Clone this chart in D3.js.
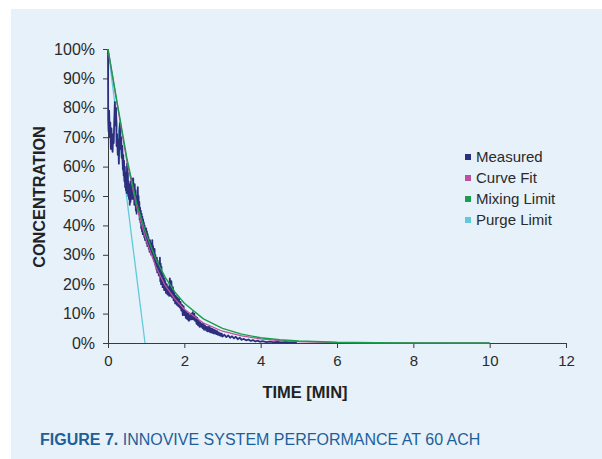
<!DOCTYPE html>
<html>
<head>
<meta charset="utf-8">
<script src="https://cdn.jsdelivr.net/npm/d3@7"></script>
<style>
  html, body { margin: 0; padding: 0; background: #fff; }
  svg text { font-family: "Liberation Sans", Arial, sans-serif; }
</style>
</head>
<body>
<div id="chart"></div>
<script>
// Concentration decay at 60 ACH: measured trace plus fit and limit curves

const xTicks = [0, 2, 4, 6, 8, 10, 12];
const yTicks = [0, 10, 20, 30, 40, 50, 60, 70, 80, 90, 100];

const seriesNames = ['Measured', 'Curve Fit', 'Mixing Limit', 'Purge Limit'];
const seriesColors = ['#2b2f7e', '#c04fa0', '#1a9d4c', '#62c9d9'];

// [time (min), concentration (%)]
const purgeLimit = [[0, 100], [0.97, 0]];

const mixingLimit = [
  [0, 100], [0.25, 81], [0.5, 62.5], [0.75, 47.5], [1, 37], [1.25, 28.6], [1.5, 22.3],
  [1.75, 17.4], [2, 13.5], [2.5, 8.2], [3, 5], [3.5, 3], [4, 1.8], [4.5, 1.1], [5, 0.7],
  [6, 0.25], [7, 0.1], [8, 0.04], [9, 0.02], [10, 0.01]
];

const curveFit = [
  [0, 100], [0.25, 80.5], [0.5, 61.5], [0.75, 46.5], [1, 35], [1.25, 26], [1.5, 19.5],
  [1.75, 15], [2, 11.5], [2.5, 6.8], [3, 4], [3.5, 2.4], [4, 1.4], [4.5, 0.8], [5, 0.5],
  [6, 0.15], [7, 0.05], [8, 0.02], [10, 0.01]
];

const measured = [
  [0, 100], [0.005, 76], [0.015, 72], [0.03, 79], [0.045, 70], [0.06, 75], [0.075, 66],
  [0.09, 73], [0.105, 67], [0.12, 65], [0.135, 71], [0.15, 68], [0.165, 76], [0.18, 82],
  [0.195, 74], [0.21, 80], [0.225, 67], [0.24, 71], [0.255, 64], [0.27, 69], [0.285, 61],
  [0.30, 72], [0.315, 75], [0.33, 66], [0.345, 70], [0.36, 63], [0.375, 67], [0.39, 59],
  [0.40, 64], [0.41, 57], [0.42, 62], [0.43, 55], [0.44, 60], [0.45, 53], [0.46, 58],
  [0.47, 52], [0.48, 57], [0.49, 51], [0.50, 61], [0.51, 53], [0.52, 58], [0.53, 50],
  [0.54, 55], [0.55, 49], [0.56, 54], [0.57, 47], [0.58, 53], [0.59, 48], [0.60, 55],
  [0.61, 49], [0.62, 56], [0.63, 50], [0.64, 54], [0.65, 49], [0.66, 56], [0.67, 50],
  [0.68, 53], [0.69, 47], [0.70, 54], [0.71, 48], [0.72, 52], [0.73, 45], [0.74, 50],
  [0.75, 44], [0.76, 49], [0.77, 46], [0.78, 53], [0.79, 46], [0.80, 50], [0.81, 44],
  [0.82, 48], [0.83, 42], [0.84, 46], [0.85, 41], [0.86, 45], [0.87, 39], [0.88, 44],
  [0.89, 38], [0.90, 43], [0.91, 37], [0.92, 42], [0.93, 37], [0.94, 41], [0.95, 36],
  [0.96, 40], [0.97, 35], [0.98, 39], [0.99, 35], [1.00, 39], [1.01, 34], [1.02, 38],
  [1.03, 33], [1.04, 37], [1.05, 33], [1.06, 36], [1.07, 32], [1.08, 35], [1.09, 31],
  [1.10, 35], [1.11, 31], [1.12, 34], [1.13, 30], [1.14, 34], [1.15, 31], [1.16, 35],
  [1.17, 30], [1.18, 33], [1.19, 29], [1.20, 32], [1.21, 28], [1.22, 32], [1.23, 27],
  [1.24, 30], [1.25, 26], [1.26, 29], [1.27, 25], [1.28, 29], [1.29, 24], [1.30, 28],
  [1.31, 24], [1.32, 27], [1.33, 23], [1.34, 27], [1.35, 23], [1.36, 29], [1.37, 21],
  [1.38, 27], [1.39, 20], [1.40, 26], [1.41, 20], [1.42, 24], [1.43, 19], [1.44, 23],
  [1.45, 19], [1.46, 22], [1.47, 18], [1.48, 22], [1.49, 18], [1.50, 21], [1.52, 17],
  [1.54, 20], [1.56, 16.5], [1.58, 19], [1.60, 16], [1.62, 22], [1.64, 16], [1.66, 21],
  [1.68, 15.5], [1.70, 19], [1.72, 14.5], [1.74, 17], [1.76, 13.5], [1.78, 16], [1.80, 13],
  [1.82, 15.5], [1.84, 12.5], [1.86, 15], [1.88, 12], [1.90, 14], [1.92, 11], [1.94, 13],
  [1.96, 9.5], [1.98, 12.5], [2.00, 9.5], [2.02, 11], [2.04, 8.5], [2.06, 10.5], [2.08, 8],
  [2.10, 10], [2.12, 7.5], [2.14, 9.5], [2.16, 8], [2.18, 10], [2.20, 8], [2.22, 10.5],
  [2.24, 8], [2.26, 10], [2.28, 7.5], [2.30, 9], [2.32, 6.5], [2.34, 8.5], [2.36, 6],
  [2.38, 7.5], [2.40, 5.5], [2.42, 7], [2.44, 5.5], [2.46, 6.5], [2.48, 5], [2.50, 6.5],
  [2.52, 4.5], [2.54, 6], [2.56, 4.5], [2.58, 5.5], [2.60, 4], [2.62, 5.5], [2.64, 4],
  [2.66, 5.5], [2.68, 3.6], [2.70, 5], [2.72, 3.5], [2.74, 4.8], [2.76, 3.3], [2.78, 4.5],
  [2.80, 3.2], [2.82, 4.3], [2.84, 3], [2.86, 4], [2.88, 2.8], [2.90, 3.6], [2.92, 2.6],
  [2.94, 3.3], [2.96, 2.4], [2.98, 3.2], [3.00, 2.2], [3.05, 2.8], [3.10, 2], [3.15, 2.6],
  [3.20, 1.8], [3.25, 2.3], [3.30, 1.6], [3.35, 2.1], [3.40, 1.3], [3.45, 1.8], [3.50, 1.1],
  [3.56, 1.4], [3.62, 0.9], [3.68, 1.2], [3.74, 0.7], [3.80, 1], [3.86, 0.5], [3.92, 0.8],
  [3.98, 0.4], [4.05, 0.6], [4.15, 0.3], [4.25, 0.5], [4.35, 0.25], [4.45, 0.4], [4.55, 0.2],
  [4.65, 0.35], [4.75, 0.2], [4.85, 0.3], [4.95, 0.2]
];

const width = 602, height = 459;
const margin = { top: 49, right: 36, bottom: 116, left: 108 };
const chartWidth = width - margin.left - margin.right;
const chartHeight = height - margin.top - margin.bottom;

const svg = d3.select("#chart").append("svg")
  .attr("width", width)
  .attr("height", height);

// light blue panel
svg.append("rect")
  .attr("x", 11).attr("y", 9)
  .attr("width", width - 11).attr("height", height - 9)
  .attr("fill", "#e6f1fa");

const xScale = d3.scaleLinear().domain([0, 12]).range([0, chartWidth]);
const yScale = d3.scaleLinear().domain([0, 100]).range([chartHeight, 0]);

const chart = svg.append("g")
  .attr("transform", `translate(${margin.left},${margin.top})`);

// axes
const xAxis = chart.append("g")
  .attr("transform", `translate(0,${chartHeight})`)
  .call(d3.axisBottom(xScale).tickValues(xTicks).tickSize(5).tickPadding(7).tickSizeOuter(0));

const yAxis = chart.append("g")
  .call(d3.axisLeft(yScale).tickValues(yTicks).tickSize(5).tickPadding(8).tickSizeOuter(0)
    .tickFormat(d => d + "%"));

[xAxis, yAxis].forEach(ax => {
  ax.select(".domain").attr("stroke", "#3a3a3a");
  ax.selectAll(".tick line").attr("stroke", "#3a3a3a");
  ax.selectAll("text")
    .attr("fill", "#2a2a2a")
    .style("font-family", "'Liberation Sans', Arial, sans-serif");
});
xAxis.selectAll("text").style("font-size", "15px");
yAxis.selectAll("text").style("font-size", "16px");

// lines
const line = d3.line()
  .x(d => xScale(d[0]))
  .y(d => yScale(d[1]));

const seriesData = [measured, curveFit, mixingLimit, purgeLimit];
const drawOrder = [3, 0, 1, 2];
const strokeWidths = [1.8, 1.3, 1.4, 1.3];

drawOrder.forEach(i => {
  chart.append("path")
    .datum(seriesData[i])
    .attr("fill", "none")
    .attr("stroke", seriesColors[i])
    .attr("stroke-width", strokeWidths[i])
    .attr("stroke-linejoin", "round")
    .attr("d", line);
});

// axis titles
svg.append("text")
  .attr("x", 305)
  .attr("y", 398)
  .attr("text-anchor", "middle")
  .attr("fill", "#222")
  .style("font-size", "16.5px")
  .style("font-weight", "bold")
  .text("TIME [MIN]");

svg.append("text")
  .attr("transform", "translate(45,197) rotate(-90)")
  .attr("text-anchor", "middle")
  .attr("fill", "#222")
  .style("font-size", "16.3px")
  .style("font-weight", "bold")
  .text("CONCENTRATION");

// legend
const legend = svg.append("g").attr("transform", "translate(465,157)");
seriesNames.forEach((name, i) => {
  const row = legend.append("g").attr("transform", `translate(0,${i * 21})`);
  row.append("rect")
    .attr("x", 0).attr("y", -3)
    .attr("width", 6).attr("height", 6)
    .attr("fill", seriesColors[i]);
  row.append("text")
    .attr("x", 11)
    .attr("y", 5)
    .attr("fill", "#2a2a2a")
    .style("font-size", "15px")
    .text(name);
});

// caption
const caption = svg.append("text")
  .attr("x", 40)
  .attr("y", 445)
  .attr("fill", "#1f5f99")
  .style("font-size", "16px");
caption.append("tspan").style("font-weight", "bold").text("FIGURE 7.");
caption.append("tspan").text(" INNOVIVE SYSTEM PERFORMANCE AT 60 ACH");
</script>
</body>
</html>
